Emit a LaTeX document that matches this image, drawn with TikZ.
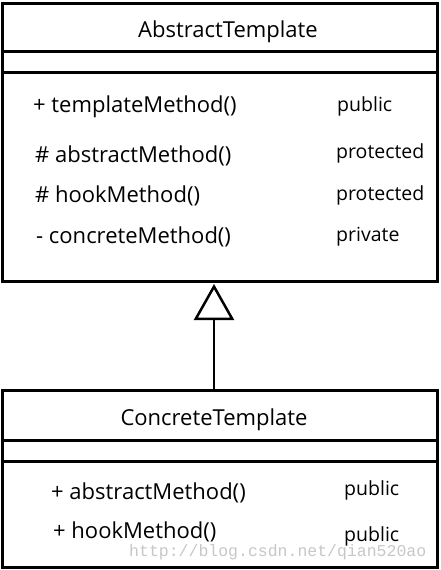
\documentclass[tikz,border=0pt]{standalone}
\usepackage{fontspec}
\setmainfont{Open Sans}
\newfontfamily\wmfont{Liberation Mono}
\usetikzlibrary{arrows.meta}
\begin{document}
\begin{tikzpicture}[x=1pt,y=-1pt,
  box/.style={draw,line width=3pt},
  title/.style={font=\fontsize{22}{26}\selectfont,inner sep=0pt},
  meth/.style={font=\fontsize{22}{26}\selectfont,anchor=west,inner sep=0pt},
  vis/.style={font=\fontsize{19.5}{24}\selectfont,anchor=west,inner sep=0pt},
  divider/.style={line width=3pt}]
\useasboundingbox (0,0) rectangle (441,570);
% AbstractTemplate box
\node[box,minimum width=435pt,minimum height=278pt,inner sep=0pt] (abs) at (220,142.5) {};
\draw[divider] (2.5,51.5) -- (437.5,51.5);
\draw[divider] (2.5,72.5) -- (437.5,72.5);
\node[title] (absname) at (228,32) {AbstractTemplate};
\node[meth] (m1) at (33,107) {+ templateMethod()};
\node[vis] (v1) at (337,106) {public};
\node[meth] (m2) at (35,156) {\# abstractMethod()};
\node[vis] (v2) at (336,153) {protected};
\node[meth] (m3) at (35,196) {\# hookMethod()};
\node[vis] (v3) at (336,195) {protected};
\node[meth] (m4) at (36,237) {- concreteMethod()};
\node[vis] (v4) at (336,237) {private};
% ConcreteTemplate box
\node[box,minimum width=435pt,minimum height=177pt,inner sep=0pt] (con) at (220,478.5) {};
\draw[divider] (2.5,440.5) -- (437.5,440.5);
\draw[divider] (2.5,461.5) -- (437.5,461.5);
\node[title] (conname) at (214,420) {ConcreteTemplate};
\node[meth] (c1) at (51,493) {+ abstractMethod()};
\node[vis] (w1) at (344,490) {public};
\node[meth] (c2) at (53,532) {+ hookMethod()};
\node[vis] (w2) at (344,536) {public};
\node[font=\wmfont\fontsize{16.5}{18}\selectfont,text=black!22,anchor=west,inner sep=0pt] (wm) at (129,552) {http://blog.csdn.net/qian520ao};
% generalization
\draw[line width=2.5pt,-{Triangle[open,length=36pt,width=40pt,line width=2.5pt]}] (214,390) -- (214,284);
\end{tikzpicture}
\end{document}
